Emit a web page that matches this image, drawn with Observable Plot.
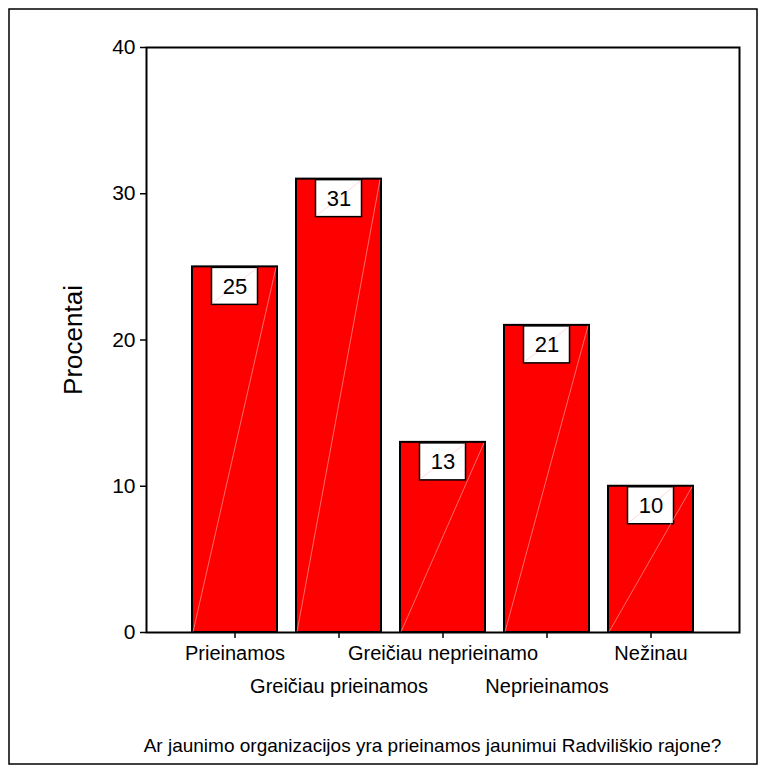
<!DOCTYPE html>
<html>
<head>
<meta charset="utf-8">
<script src="https://cdn.jsdelivr.net/npm/d3@7"></script>
<script src="https://cdn.jsdelivr.net/npm/@observablehq/plot@0.6"></script>
<style>
  html, body { margin: 0; padding: 0; background: #fff; }
  #chart svg { display: block; }
</style>
</head>
<body>
<div id="chart"></div>
<script>
const categories = ["Prieinamos", "Greičiau prieinamos", "Greičiau neprieinamo", "Neprieinamos", "Nežinau"];
const values = [25, 31, 13, 21, 10];
const yTicks = [0, 10, 20, 30, 40];
const yLabel = "Procentai";
const xTitle = "Ar jaunimo organizacijos yra prieinamos jaunimui Radviliškio rajone?";

const data = categories.map((c, i) => ({cat: c, value: values[i]}));
const rowA = categories.filter((d, i) => i % 2 === 0);
const rowB = categories.filter((d, i) => i % 2 === 1);
const FONT = "'Liberation Sans', Arial, Helvetica, sans-serif";

// faint diagonal artifacts drawn through the scales
function diagonals(index, scales, values, dims) {
  const g = d3.create("svg:g");
  const bw = scales.x.bandwidth();
  for (const d of data) {
    const x0 = scales.x(d.cat);
    g.append("line")
      .attr("x1", x0 + 1).attr("y1", scales.y(0))
      .attr("x2", x0 + bw - 1).attr("y2", scales.y(d.value) + 1)
      .attr("stroke", "#ffb0b0").attr("stroke-width", 0.6);
    const cx = x0 + bw / 2;
    const yt = scales.y(d.value);
    g.append("line")
      .attr("x1", cx - 22).attr("y1", yt + 37)
      .attr("x2", cx + 22).attr("y2", yt + 2)
      .attr("stroke", "#ffc0c0").attr("stroke-width", 0.6);
  }
  return g.node();
}

function outerBorder(index, scales, values, dims) {
  return d3.create("svg:rect")
    .attr("x", 9).attr("y", 9)
    .attr("width", dims.width - 18).attr("height", dims.height - 18)
    .attr("fill", "none").attr("stroke", "black").attr("stroke-width", 1.5)
    .node();
}

const chart = Plot.plot({
  width: 766,
  height: 773,
  marginLeft: 146,
  marginRight: 27,
  marginTop: 47,
  marginBottom: 141,
  style: {fontFamily: FONT, color: "black", background: "white"},
  x: {domain: categories, paddingInner: 0.187, paddingOuter: 0.431},
  y: {domain: [0, 40]},
  marks: [
    outerBorder,
    Plot.barY(data, {x: "cat", y: "value", fill: "#ff0000", stroke: "black", strokeWidth: 2}),
    Plot.barY(data, {x: "cat", y1: "value", y2: "value", insetLeft: 19.5, insetRight: 19.5, insetTop: 1, insetBottom: -38,
      fill: "white", stroke: "black", strokeWidth: 1.5}),
    diagonals,
    Plot.text(data, {x: "cat", y: "value", text: d => String(d.value), dy: 20, fontSize: 22, fill: "black", lineAnchor: "middle"}),
    Plot.frame({stroke: "black", strokeWidth: 2}),
    Plot.axisY({ticks: yTicks, tickSize: 6, tickPadding: 5, fontSize: 21, label: null, strokeWidth: 1.5}),
    Plot.axisX({ticks: rowA, tickSize: 6, tickPadding: 7, fontSize: 20, label: null, strokeWidth: 1.5}),
    Plot.axisX({ticks: rowB, tickSize: 6, tickPadding: 40, fontSize: 20, label: null, strokeWidth: 1.5}),
    Plot.text([yLabel], {frameAnchor: "left", textAnchor: "middle", dx: -73, rotate: -90, fontSize: 26, fill: "black", text: d => d}),
    Plot.text([xTitle], {frameAnchor: "bottom", textAnchor: "middle", dx: -10.5, dy: 113, fontSize: 19, fill: "black", text: d => d, lineAnchor: "middle"})
  ]
});
document.getElementById("chart").appendChild(chart);
</script>
</body>
</html>
